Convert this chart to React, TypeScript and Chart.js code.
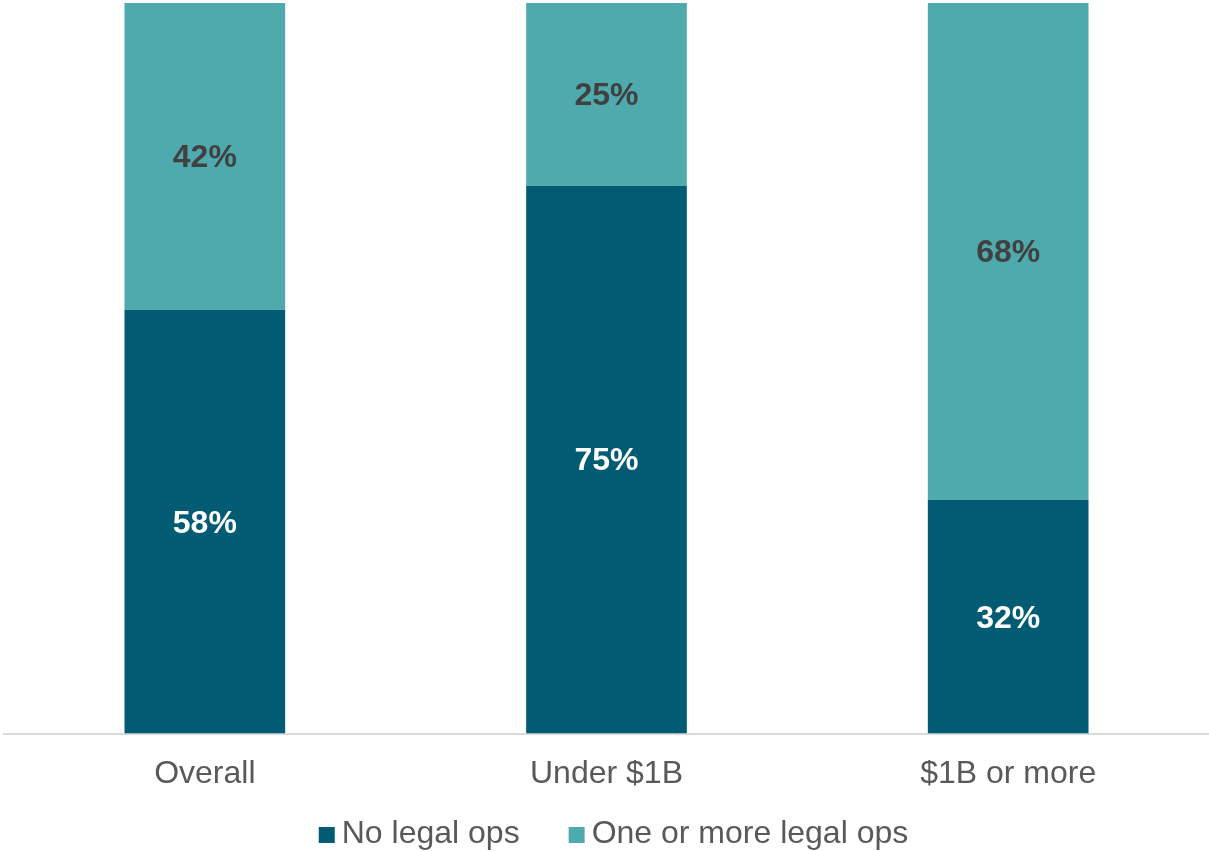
import React, { useEffect, useRef } from "react";
import { Chart, registerables } from "chart.js";

Chart.register(...registerables);

const categories = ["Overall", "Under $1B", "$1B or more"];
const seriesNames = ["No legal ops", "One or more legal ops"];
const noLegalOps = [58, 75, 32];
const oneOrMoreLegalOps = [42, 25, 68];
const seriesColors = ["#005B73", "#4FAAAD"];
const labelColors = ["#FFFFFF", "#404040"];

const FONT = "'Liberation Sans', Arial, sans-serif";

const dataLabelPlugin = {
  id: "dataLabels",
  afterDatasetsDraw(chart: any) {
    const ctx = chart.ctx;
    ctx.save();
    ctx.font = `bold 32px ${FONT}`;
    ctx.textAlign = "center";
    ctx.textBaseline = "middle";
    chart.data.datasets.forEach((ds: any, di: number) => {
      const meta = chart.getDatasetMeta(di);
      meta.data.forEach((bar: any, i: number) => {
        const v = ds.data[i];
        const { x, y, base } = bar.getProps(["x", "y", "base"], true);
        ctx.fillStyle = labelColors[di];
        ctx.fillText(`${v}%`, x, (y + base) / 2 + 2);
      });
    });
    ctx.restore();
  },
};

const legendPlugin = {
  id: "customLegend",
  afterDraw(chart: any) {
    const ctx = chart.ctx;
    ctx.save();
    ctx.font = `32px ${FONT}`;
    ctx.textBaseline = "middle";
    ctx.textAlign = "left";
    const box = 16;
    const textGap = 23;
    const itemGap = 49;
    const widths = chart.data.datasets.map((d: any) => ctx.measureText(d.label).width);
    const total = widths.reduce((a: number, w: number) => a + textGap + w, 0) + itemGap * (widths.length - 1);
    let x = chart.width / 2 + 9 - total / 2;
    const yc = 834;
    chart.data.datasets.forEach((d: any, i: number) => {
      ctx.fillStyle = d.backgroundColor;
      ctx.fillRect(x, yc - box / 2 + 1, box, box);
      ctx.fillStyle = "#595959";
      ctx.fillText(d.label, x + textGap, yc);
      x += textGap + widths[i] + itemGap;
    });
    ctx.restore();
  },
};

export default function App() {
  const ref = useRef<HTMLCanvasElement>(null);
  useEffect(() => {
    if (!ref.current) return;
    const chart = new Chart(ref.current, {
      type: "bar",
      data: {
        labels: categories,
        datasets: [
          { label: seriesNames[0], data: noLegalOps, backgroundColor: seriesColors[0], borderWidth: 0 },
          { label: seriesNames[1], data: oneOrMoreLegalOps, backgroundColor: seriesColors[1], borderWidth: 0 },
        ],
      },
      options: {
        animation: false,
        responsive: true,
        maintainAspectRatio: false,
        layout: { padding: { top: 3, left: 4, right: 0, bottom: 37 } },
        datasets: { bar: { barPercentage: 0.4, categoryPercentage: 1.0 } },
        plugins: {
          legend: { display: false },
          tooltip: { enabled: false },
        },
        scales: {
          x: {
            stacked: true,
            grid: { display: false, drawTicks: false, tickLength: 0 },
            border: { display: true, color: "#D9D9D9", width: 2 },
            ticks: { color: "#595959", font: { family: FONT, size: 32 }, padding: 21 },
          },
          y: {
            stacked: true,
            display: false,
            min: 0,
            max: 100,
          },
        },
      },
      plugins: [dataLabelPlugin, legendPlugin],
    });
    return () => chart.destroy();
  }, []);
  return (
    <div style={{ position: "fixed", left: 0, top: 0, width: 1209, height: 851, background: "#fff" }}>
      <canvas ref={ref} />
    </div>
  );
}
